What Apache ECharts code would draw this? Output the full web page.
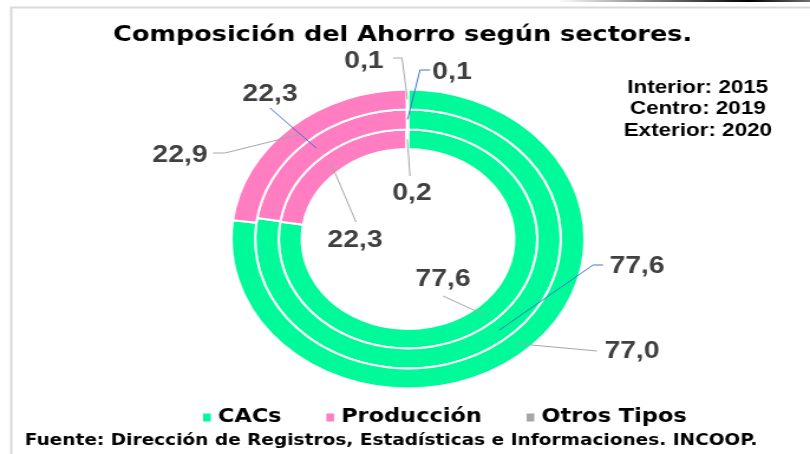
<!DOCTYPE html>
<html>
<head>
<meta charset="utf-8">
<script src="https://cdn.jsdelivr.net/npm/echarts@6/dist/echarts.min.js"></script>
<style>
html,body{margin:0;padding:0;background:#fff;overflow:hidden;}
#wrap{width:810px;height:454px;overflow:hidden;position:relative;}
#chart{width:686px;height:454px;transform:scaleX(1.18076);transform-origin:0 0;position:absolute;left:0;top:0;}
</style>
</head>
<body>
<div id="wrap"><div id="chart"></div></div>
<script>
// ---- data ----
const categories = ['CACs', 'Producción', 'Otros Tipos'];
const years = ['2015', '2019', '2020']; // interior, centro, exterior
const cacs = [77.6, 77.6, 77.0];
const produccion = [22.3, 22.3, 22.9];
const otros = [0.2, 0.1, 0.1];
const ringNotes = ['Interior: 2015', 'Centro: 2019', 'Exterior: 2020'];

// ---- layout (kept separate from data) ----
const S = 810 / 686;
const cx = 408 / S, cy = 239;
const rings = [[90, 109.5], [109.5, 129.5], [129.5, 149.5]];
const colors = ['#00FA9A', '#FF7DC0', '#A6A6A6'];
const lineColors = ['#A6A6A6', '#4472C4', '#A6A6A6'];
// label centres and leader bend/end points, in final picture coordinates
const labelPos = [
  [[443, 279], [355, 240], [412, 193]],
  [[637, 266], [270, 94], [452, 72]],
  [[632, 351], [180, 155], [364, 61]]
];
const lineBend = [
  [[443, 296], [356, 222], [410, 176]],
  [[593, 265], [270, 108], [420, 70]],
  [[597, 351], [225, 153], [402, 58]]
];
const lineEnd = [
  [[443, 296], [356, 222], [410, 176]],
  [[603, 265], [270, 108], [430, 70]],
  [[597, 351], [213, 153], [393, 58]]
];

function ringValues(si) { return [cacs[si], produccion[si], otros[si]]; }
function anchor(si, di) {
  const v = ringValues(si);
  const total = v.reduce((a, b) => a + b, 0);
  let before = 0;
  for (let i = 0; i < di; i++) before += v[i];
  const frac = (before + v[di] / 2) / total;
  const ang = (90 - frac * 360) * Math.PI / 180;
  const r = (rings[si][0] + rings[si][1]) / 2;
  return [cx + r * Math.cos(ang), cy - r * Math.sin(ang)];
}
function fmt(v) { return v.toFixed(1).replace('.', ','); }

const chart = echarts.init(document.getElementById('chart'));

// coloured rings
const ringSeries = years.map((y, si) => ({
  type: 'pie',
  name: y,
  z: 2,
  center: [cx, cy],
  radius: rings[si],
  startAngle: 90,
  clockwise: true,
  animation: false,
  silent: true,
  itemStyle: { borderColor: '#fff', borderWidth: 2 },
  label: { show: false },
  labelLine: { show: false },
  emphasis: { disabled: true },
  data: categories.map((c, di) => ({ name: c, value: ringValues(si)[di] }))
}));

// transparent copies carrying value labels and leader lines above the rings
const labelSeries = years.map((y, si) => ({
  type: 'pie',
  name: y + ' etiquetas',
  z: 10 - si,
  center: [cx, cy],
  radius: rings[si],
  startAngle: 90,
  clockwise: true,
  avoidLabelOverlap: false,
  animation: false,
  silent: true,
  itemStyle: { color: 'rgba(0,0,0,0)', borderWidth: 0 },
  label: {
    show: true,
    position: 'outside',
    formatter: p => fmt(p.value),
    fontFamily: '"Liberation Sans", Arial, sans-serif',
    fontWeight: 'bold',
    fontSize: 24,
    color: '#404040'
  },
  labelLine: { show: true, showAbove: true, lineStyle: { color: lineColors[si], width: 1, opacity: 1 } },
  labelLayout: params => {
    const di = params.dataIndex;
    const p = labelPos[si][di];
    const b = lineBend[si][di];
    const e = lineEnd[si][di];
    return {
      x: p[0] / S, y: p[1], align: 'center', verticalAlign: 'middle',
      labelLinePoints: [anchor(si, di), [b[0] / S, b[1]], [e[0] / S, e[1]]]
    };
  },
  emphasis: { disabled: true },
  data: categories.map((c, di) => ({ name: c, value: ringValues(si)[di] }))
}));

chart.setOption({
  animation: false,
  color: colors,
  title: {
    text: 'Composición del Ahorro según sectores.',
    left: 336, top: 19, textAlign: 'center',
    textStyle: { fontFamily: '"DejaVu Sans", Verdana, sans-serif', fontWeight: 'bold', fontSize: 21.6, color: '#000' }
  },
  legend: {
    left: 165, top: 403,
    icon: 'rect', itemWidth: 8.5, itemHeight: 10, itemGap: 36,
    data: categories,
    selectedMode: false,
    textStyle: { fontFamily: '"DejaVu Sans", Verdana, sans-serif', fontWeight: 'bold', fontSize: 19, color: '#000' }
  },
  graphic: [
    { type: 'rect', left: 7, top: 5, shape: { width: 2000, height: 1000 }, style: { fill: 'none', stroke: '#D9D9D9', lineWidth: 2 }, silent: true },
    { type: 'line', shape: { x1: 474, y1: 1, x2: 686, y2: 1 }, style: { lineWidth: 2, stroke: new echarts.graphic.LinearGradient(0, 0, 1, 0, [
      { offset: 0, color: 'rgba(0,0,0,0)' }, { offset: 0.75, color: '#000' }, { offset: 1, color: '#777' }]) }, silent: true },
    { type: 'text', left: 21, top: 433,
      style: { text: 'Fuente: Dirección de Registros, Estadísticas e Informaciones. INCOOP.', font: 'bold 15.7px "DejaVu Sans", Verdana, sans-serif', fill: '#000' } },
    { type: 'text', x: 591, y: 77,
      style: { text: ringNotes.join('\n'), font: 'bold 19px "Liberation Sans", Arial, sans-serif', fill: '#000', align: 'center', lineHeight: 21.5 } }
  ],
  series: ringSeries.concat(labelSeries)
});
</script>
</body>
</html>
